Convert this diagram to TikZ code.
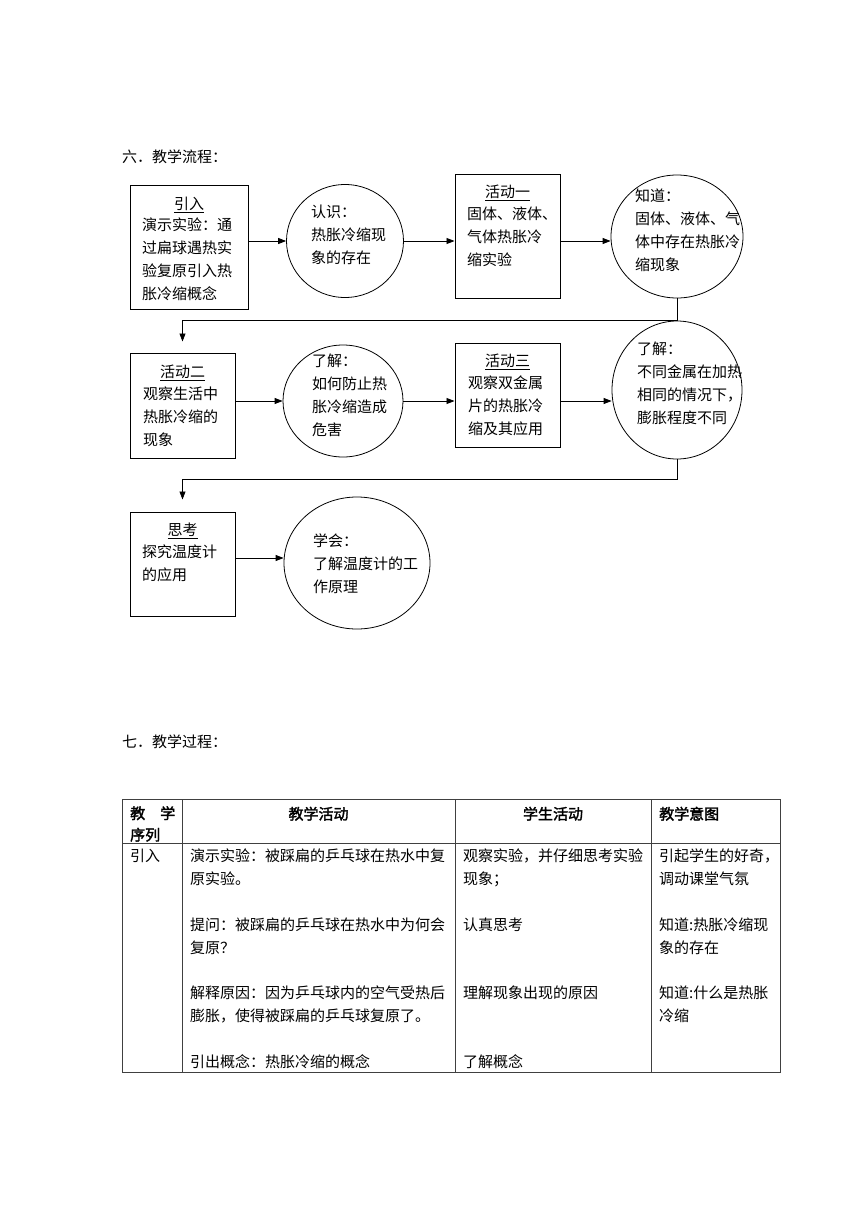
\documentclass[tikz,border=0pt]{standalone}
\usepackage{fontspec}
\setmainfont{Liberation Serif}
\newfontfamily\cjk{Noto Sans CJK SC}
\newfontfamily\cjkbold[FakeBold=2]{Noto Sans CJK SC}
\usetikzlibrary{shapes.geometric,arrows.meta,calc,positioning}

\tikzset{
  flowbox/.style={draw, line width=1pt, inner sep=0pt},
  flowoval/.style={draw, ellipse, line width=0.8pt, inner sep=0pt},
  txt/.style={anchor=north west, inner sep=0pt, align=left, font=\cjk\fontsize{15}{23}\selectfont},
  celltxt/.style={anchor=north west, inner sep=0pt, align=left, font=\cjk\fontsize{15}{22.8}\selectfont},
  headtxt/.style={anchor=base, inner sep=0pt, font=\cjkbold\fontsize{15}{22}\selectfont},
  boxtitle/.style={anchor=base, inner sep=0pt, font=\cjk\fontsize{15}{23}\selectfont},
  flow/.style={-{Triangle[length=8pt,width=6pt]}, line width=0.8pt},
  grid/.style={draw=black!75, line width=0.8pt},
}

\begin{document}
\begin{tikzpicture}[x=1pt,y=-1pt]
  \useasboundingbox (0,0) rectangle (860,1216);

  % section heading
  \node[txt] (head6) at (122,150) {六．教学流程：};

  % first row
  \node[flowbox, minimum width=118pt, minimum height=124pt] (intro) at (189,247) {};
  \node[boxtitle] (introT) at (189,209.5) {\underline{引入}};
  \node[txt] (introX) at (142,218) {演示实验：通\\过扁球遇热实\\验复原引入热\\胀冷缩概念};

  \node[flowoval, minimum width=117pt, minimum height=113pt] (c1) at (345,241) {};
  \node[txt] (c1X) at (311,205) {认识：\\热胀冷缩现\\象的存在};

  \node[flowbox, minimum width=105pt, minimum height=124pt] (a1) at (507.5,236) {};
  \node[boxtitle] (a1T) at (507.5,197.5) {\underline{活动一}};
  \node[txt] (a1X) at (467,207) {固体、液体、\\气体热胀冷\\缩实验};

  \node[flowoval, minimum width=132pt, minimum height=123pt] (c2) at (677,236.5) {};
  \node[txt] (c2X) at (635,189) {知道：\\固体、液体、气\\体中存在热胀冷\\缩现象};

  \draw[flow] (intro.east |- c1.west) -- (c1.west);
  \draw[flow] (c1.east) -- (a1.west |- c1.east);
  \draw[flow] (a1.east |- c1.east) -- (c2.west |- c1.east);

  % second row
  \node[flowbox, minimum width=105pt, minimum height=105pt] (a2) at (182.5,405.5) {};
  \node[boxtitle] (a2T) at (182.5,377.5) {\underline{活动二}};
  \node[txt] (a2X) at (143,387) {观察生活中\\热胀冷缩的\\现象};

  \node[flowoval, minimum width=120pt, minimum height=112pt] (c3) at (343,401) {};
  \node[txt] (c3X) at (312,354) {了解：\\如何防止热\\胀冷缩造成\\危害};

  \node[flowbox, minimum width=105pt, minimum height=104pt] (a3) at (507.5,395) {};
  \node[boxtitle] (a3T) at (507.5,366.5) {\underline{活动三}};
  \node[txt] (a3X) at (468,376) {观察双金属\\片的热胀冷\\缩及其应用};

  \node[flowoval, minimum width=130pt, minimum height=138pt] (c4) at (677,390) {};
  \node[txt] (c4X) at (637,342) {了解：\\不同金属在加热\\相同的情况下，\\膨胀程度不同};

  \draw[flow] (a2.east |- c3.west) -- (c3.west);
  \draw[flow] (c3.east) -- (a3.west |- c3.east);
  \draw[flow] (a3.east |- c3.east) -- (c4.west |- c3.east);

  % third row
  \node[flowbox, minimum width=105pt, minimum height=104pt] (th) at (182.5,564) {};
  \node[boxtitle] (thT) at (182.5,535.5) {\underline{思考}};
  \node[txt] (thX) at (142,545) {探究温度计\\的应用};

  \node[flowoval, minimum width=146pt, minimum height=132pt] (c5) at (357,563) {};
  \node[txt] (c5X) at (313,534) {学会：\\了解温度计的工\\作原理};

  \coordinate (out3) at ([yshift=6pt]th.east);
  \draw[flow] (out3) -- (c5.west |- out3);

  % links between the rows
  \coordinate (in2) at ([yshift=11pt]a2.north);
  \coordinate (in3) at ([yshift=12pt]th.north);
  \draw[flow] (c2.south) -- ++(0,22) -| (in2);
  \draw[flow] (c4.south) -- ++(0,20) -| (in3);

  % section heading
  \node[txt] (head7) at (122,735) {七．教学过程：};

  % table
  \draw[grid] (122,799) rectangle (780,1072);
  \draw[grid] (122,843) -- (780,843);
  \foreach \x in {182,455,651}
    \draw[grid] (\x,799) -- (\x,1072);

  \node[celltxt, font=\cjkbold\fontsize{15}{21.5}\selectfont] (hd1) at (130,806) {教\hspace{15pt}学\\序列};
  \node[headtxt] (hd2) at (318.5,819.5) {教学活动};
  \node[headtxt] (hd3) at (553,819.5) {学生活动};
  \node[headtxt, anchor=base west] (hd4) at (659,819.5) {教学意图};

  \node[celltxt] (r1) at (130,849) {引入};
  \node[celltxt] (r2) at (190,849) {演示实验：被踩扁的乒乓球在热水中复\\原实验。\\[22.8pt]
    提问：被踩扁的乒乓球在热水中为何会\\复原？\\[22.8pt]
    解释原因：因为乒乓球内的空气受热后\\膨胀，使得被踩扁的乒乓球复原了。\\[22.8pt]
    引出概念：热胀冷缩的概念};
  \node[celltxt] (r3) at (463,849) {观察实验，并仔细思考实验\\现象；\\[22.8pt]
    认真思考\\[45.6pt]
    理解现象出现的原因\\[45.6pt]
    了解概念};
  \node[celltxt] (r4) at (659,849) {引起学生的好奇，\\调动课堂气氛\\[22.8pt]
    知道:热胀冷缩现\\象的存在\\[22.8pt]
    知道:什么是热胀\\冷缩};
\end{tikzpicture}
\end{document}
